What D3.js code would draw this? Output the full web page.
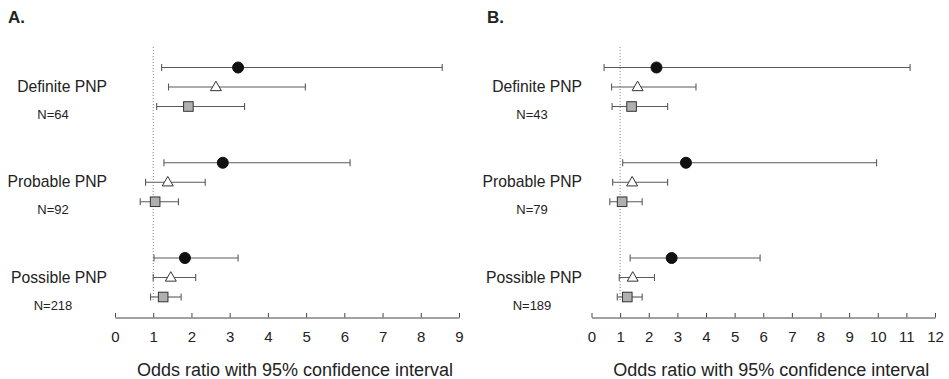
<!DOCTYPE html>
<html>
<head>
<meta charset="utf-8">
<script src="https://cdn.jsdelivr.net/npm/d3@7"></script>
<style>
  body { margin: 0; background: #fff; }
  text { font-family: "Liberation Sans", Arial, sans-serif; fill: #222; }
</style>
</head>
<body>
<script>
const groups = ['Definite PNP', 'Probable PNP', 'Possible PNP']
const series = ['circle', 'triangle', 'square']

// panel A
const nA = ['N=64', 'N=92', 'N=218']
const ticksA = [0, 1, 2, 3, 4, 5, 6, 7, 8, 9]
const orA = { circle: [3.22, 2.82, 1.83], triangle: [2.64, 1.38, 1.46], square: [1.92, 1.05, 1.26] }
const loA = { circle: [1.22, 1.28, 1.02], triangle: [1.40, 0.80, 1.00], square: [1.09, 0.66, 0.93] }
const hiA = { circle: [8.56, 6.15, 3.22], triangle: [4.98, 2.36, 2.11], square: [3.39, 1.66, 1.73] }

// panel B
const nB = ['N=43', 'N=79', 'N=189']
const ticksB = [0, 1, 2, 3, 4, 5, 6, 7, 8, 9, 10, 11, 12]
const orB = { circle: [2.27, 3.30, 2.80], triangle: [1.61, 1.42, 1.44], square: [1.40, 1.07, 1.25] }
const loB = { circle: [0.44, 1.09, 1.35], triangle: [0.70, 0.74, 0.97], square: [0.72, 0.64, 0.90] }
const hiB = { circle: [11.13, 9.96, 5.89], triangle: [3.65, 2.66, 2.20], square: [2.66, 1.77, 1.77] }

const width = 949
const height = 379

const svg = d3.select('body').append('svg')
  .attr('width', width)
  .attr('height', height)

const yGroup = d3.scalePoint().domain(groups).range([87, 277.5])
const ySeries = d3.scalePoint().domain(series).range([-19.5, 19.5])

function panel(opts) {
  const { title, titleX, x0, x1, ticks, ns, or, lo, hi, labelX, nX } = opts
  const x = d3.scaleLinear().domain([0, d3.max(ticks)]).range([x0, x1])
  const g = svg.append('g')

  g.append('text')
    .attr('x', titleX).attr('y', 23)
    .style('font-weight', 'bold').style('font-size', '17px')
    .text(title)

  // reference line at OR = 1
  g.append('line')
    .attr('x1', x(1)).attr('x2', x(1))
    .attr('y1', 47).attr('y2', 300)
    .attr('stroke', '#888').attr('stroke-dasharray', '1,2')

  groups.forEach((grp, i) => {
    g.append('text')
      .attr('x', labelX).attr('y', yGroup(grp) + 5)
      .attr('text-anchor', 'end').style('font-size', '15.7px')
      .text(grp)
    g.append('text')
      .attr('x', nX).attr('y', yGroup(grp) + 32)
      .attr('text-anchor', 'middle').style('font-size', '13px')
      .text(ns[i])

    series.forEach(s => {
      const y = yGroup(grp) + ySeries(s)
      const row = g.append('g').attr('stroke', '#5a5a5a').attr('stroke-width', 1.1)
      row.append('line')
        .attr('x1', x(lo[s][i])).attr('x2', x(hi[s][i]))
        .attr('y1', y).attr('y2', y)
      row.append('line')
        .attr('x1', x(lo[s][i])).attr('x2', x(lo[s][i]))
        .attr('y1', y - 3.5).attr('y2', y + 3.5)
      row.append('line')
        .attr('x1', x(hi[s][i])).attr('x2', x(hi[s][i]))
        .attr('y1', y - 3.5).attr('y2', y + 3.5)

      const cx = x(or[s][i])
      if (s === 'circle') {
        g.append('circle').attr('cx', cx).attr('cy', y).attr('r', 5.5)
          .attr('fill', '#111').attr('stroke', '#111')
      } else if (s === 'triangle') {
        g.append('path')
          .attr('d', d3.symbol(d3.symbolTriangle, 52)())
          .attr('transform', `translate(${cx},${y + 0.5})`)
          .attr('fill', '#fff').attr('stroke', '#333').attr('stroke-width', 1)
      } else {
        g.append('rect').attr('x', cx - 4.8).attr('y', y - 4.8)
          .attr('width', 9.6).attr('height', 9.6)
          .attr('fill', '#b0b0b0').attr('stroke', '#333').attr('stroke-width', 1)
      }
    })
  })

  const axis = g.append('g')
    .attr('transform', 'translate(0,317.5)')
    .call(d3.axisBottom(x).tickValues(ticks).tickSizeInner(-4.5).tickSizeOuter(0)
      .tickPadding(14).tickFormat(d3.format('d')))
  axis.select('.domain').attr('stroke', '#444')
  axis.selectAll('.tick line').attr('stroke', '#444')
  axis.selectAll('.tick text')
    .style('font-size', '15px')
    .style('font-family', '"Liberation Sans", Arial, sans-serif')
    .attr('fill', '#222')

  g.append('text')
    .attr('x', (x0 + x1) / 2 + 8).attr('y', 376)
    .attr('text-anchor', 'middle').style('font-size', '18px')
    .text('Odds ratio with 95% confidence interval')
}

panel({ title: 'A.', titleX: 8, x0: 115, x1: 459, ticks: ticksA, ns: nA, or: orA, lo: loA, hi: hiA, labelX: 107, nX: 53 })
panel({ title: 'B.', titleX: 487, x0: 591.5, x1: 935, ticks: ticksB, ns: nB, or: orB, lo: loB, hi: hiB, labelX: 582, nX: 532 })
</script>
</body>
</html>
